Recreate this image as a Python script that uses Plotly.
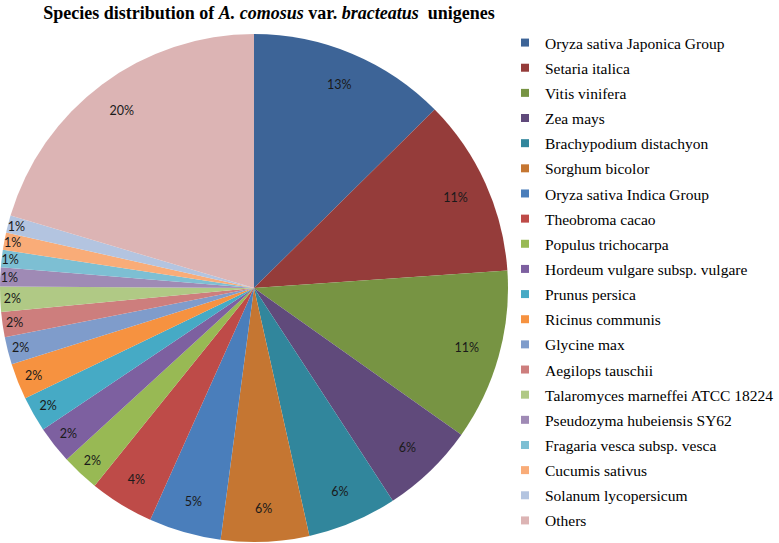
import plotly.graph_objects as go

species = [
    "Oryza sativa Japonica Group", "Setaria italica", "Vitis vinifera", "Zea mays",
    "Brachypodium distachyon", "Sorghum bicolor", "Oryza sativa Indica Group",
    "Theobroma cacao", "Populus trichocarpa", "Hordeum vulgare subsp. vulgare",
    "Prunus persica", "Ricinus communis", "Glycine max", "Aegilops tauschii",
    "Talaromyces marneffei ATCC 18224", "Pseudozyma hubeiensis SY62",
    "Fragaria vesca subsp. vesca", "Cucumis sativus", "Solanum lycopersicum", "Others",
]
shares = [12.6, 11.3, 10.9, 6.0, 5.7, 5.6, 4.6, 4.1, 2.4, 2.4,
          2.25, 2.3, 1.75, 1.6, 1.6, 1.2, 1.1, 1.1, 1.1, 20.4]
colors = [
    "#3D6497", "#953C3A", "#779443", "#604A7B", "#31869C", "#C57632",
    "#4A7EBB", "#BE4B48", "#98B954", "#7D60A0", "#46AAC5", "#F69240",
    "#7F9CCB", "#CD7E7D", "#B0C985", "#9F8AB5", "#7DBFD3", "#F9AC78",
    "#B3C4E0", "#DCB4B4",
]

W, H = 779, 543
dom_x = [0.0, 508 / W]
dom_y = [1 - 542 / H, 1 - 34 / H]
serif = "Liberation Serif, Times New Roman, serif"

fig = go.Figure()
fig.add_trace(go.Pie(
    labels=species, values=shares, sort=False, direction="clockwise", rotation=0,
    marker=dict(colors=colors, line=dict(width=0)), textinfo="none",
    domain=dict(x=dom_x, y=dom_y), hoverinfo="label+percent", showlegend=False,
))
fig.add_trace(go.Pie(
    labels=species, values=shares, sort=False, direction="clockwise", rotation=0,
    hole=0.74, marker=dict(colors=["rgba(0,0,0,0)"] * len(species), line=dict(width=0)),
    texttemplate="%{percent:.0%}", textposition="inside", insidetextorientation="horizontal",
    insidetextfont=dict(family="Lato, Open Sans, sans-serif", size=12.5, color="#1a1a1a"),
    domain=dict(x=dom_x, y=dom_y), showlegend=False, hoverinfo="skip",
))
# legend entries (one group per species so the gap between rows can be set)
for name, col in zip(species, colors):
    fig.add_trace(go.Scatter(
        x=[None], y=[None], mode="markers", name=name, legendgroup=name,
        marker=dict(symbol="square", size=8, color=col), hoverinfo="skip",
    ))

fig.update_layout(
    width=W, height=H,
    margin=dict(l=0, r=0, t=0, b=0),
    paper_bgcolor="white", plot_bgcolor="white",
    xaxis=dict(visible=False), yaxis=dict(visible=False),
    uniformtext=dict(minsize=12.5, mode="show"),
    title=dict(
        text="<b>Species distribution of <i>A. comosus</i> var. <i>bracteatus</i>  unigenes</b>",
        font=dict(family=serif, size=18, color="black"),
        xref="container", x=269 / W, xanchor="center",
        yref="container", y=1 - 6 / H, yanchor="top",
    ),
    legend=dict(
        x=505 / W, xanchor="left", y=1 - 26 / H, yanchor="top",
        font=dict(family=serif, size=15.5, color="black"),
        traceorder="grouped", tracegroupgap=2, bgcolor="rgba(0,0,0,0)",
    ),
)

fig.write_html("out.html", config={"displayModeBar": False},
               post_script="document.body.style.margin='0';")
